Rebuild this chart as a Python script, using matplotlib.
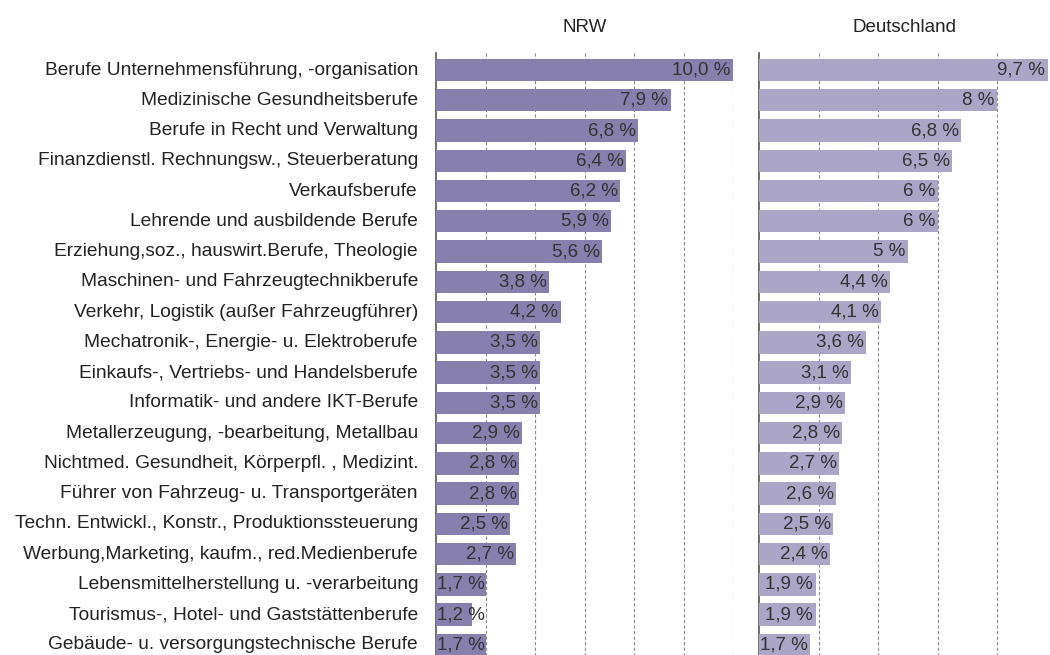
import matplotlib.pyplot as plt
import numpy as np

plt.rcParams['font.family'] = ['Liberation Sans', 'DejaVu Sans']

# categories, top to bottom
categories = [
    "Berufe Unternehmensführung, -organisation",
    "Medizinische Gesundheitsberufe",
    "Berufe in Recht und Verwaltung",
    "Finanzdienstl. Rechnungsw., Steuerberatung",
    "Verkaufsberufe",
    "Lehrende und ausbildende Berufe",
    "Erziehung,soz., hauswirt.Berufe, Theologie",
    "Maschinen- und Fahrzeugtechnikberufe",
    "Verkehr, Logistik (außer Fahrzeugführer)",
    "Mechatronik-, Energie- u. Elektroberufe",
    "Einkaufs-, Vertriebs- und Handelsberufe",
    "Informatik- und andere IKT-Berufe",
    "Metallerzeugung, -bearbeitung, Metallbau",
    "Nichtmed. Gesundheit, Körperpfl. , Medizint.",
    "Führer von Fahrzeug- u. Transportgeräten",
    "Techn. Entwickl., Konstr., Produktionssteuerung",
    "Werbung,Marketing, kaufm., red.Medienberufe",
    "Lebensmittelherstellung u. -verarbeitung",
    "Tourismus-, Hotel- und Gaststättenberufe",
    "Gebäude- u. versorgungstechnische Berufe",
]

nrw_values = [10.0, 7.9, 6.8, 6.4, 6.2, 5.9, 5.6, 3.8, 4.2, 3.5,
              3.5, 3.5, 2.9, 2.8, 2.8, 2.5, 2.7, 1.7, 1.2, 1.7]
nrw_labels = ["10,0 %", "7,9 %", "6,8 %", "6,4 %", "6,2 %", "5,9 %", "5,6 %",
              "3,8 %", "4,2 %", "3,5 %", "3,5 %", "3,5 %", "2,9 %", "2,8 %",
              "2,8 %", "2,5 %", "2,7 %", "1,7 %", "1,2 %", "1,7 %"]

de_values = [9.7, 8, 6.8, 6.5, 6, 6, 5, 4.4, 4.1, 3.6,
             3.1, 2.9, 2.8, 2.7, 2.6, 2.5, 2.4, 1.9, 1.9, 1.7]
de_labels = ["9,7 %", "8 %", "6,8 %", "6,5 %", "6 %", "6 %", "5 %", "4,4 %",
             "4,1 %", "3,6 %", "3,1 %", "2,9 %", "2,8 %", "2,7 %", "2,6 %",
             "2,5 %", "2,4 %", "1,9 %", "1,9 %", "1,7 %"]

W, H = 1050, 655
fig = plt.figure(figsize=(W / 100, H / 100), dpi=100)

ax_top = 53
ax_bot = 660


def make_axes(x0, x1):
    return fig.add_axes([x0 / W, 1 - ax_bot / H, (x1 - x0) / W, (ax_bot - ax_top) / H])


ax_nrw = make_axes(436, 733)
ax_de = make_axes(759, 1050)

y = np.arange(len(categories))


def draw_panel(ax, values, labels, color, xmax, grid, title):
    ax.barh(y, values, height=0.74, color=color, zorder=2)
    ax.set_xlim(0, xmax)
    ax.set_ylim(19.5, -0.562)
    for g in grid[1:]:
        ax.axvline(g, color='#8a8a8a', lw=0.8, ls=(0, (3, 2)), zorder=1)
    for s in ['top', 'right', 'bottom']:
        ax.spines[s].set_visible(False)
    ax.spines['left'].set_color('#555555')
    ax.spines['left'].set_linewidth(1.2)
    ax.spines['left'].set_zorder(1)
    ax.set_xticks([])
    ax.set_yticks([])
    for yi, v, lab in zip(y, values, labels):
        if v < 1.8:
            ax.text(0.05, yi, lab, ha='left', va='center', fontsize=13.5,
                    color='#333333', zorder=3)
        else:
            ax.text(v - 0.08, yi, lab, ha='right', va='center', fontsize=13.5,
                    color='#333333', zorder=3)
    ax.set_title(title, fontsize=13.5, color='#222222', pad=15)


draw_panel(ax_nrw, nrw_values, nrw_labels, '#877fad', 10, np.linspace(0, 10, 7), 'NRW')
draw_panel(ax_de, de_values, de_labels, '#aba6c7', (1050 - 759) / 29.75, np.arange(0, 10, 2), 'Deutschland')

for yi, cat in zip(y, categories):
    ax_nrw.text(-18 / 29.7, yi, cat, ha='right', va='center', fontsize=13.8,
                color='#222222')

fig.savefig('out.png', dpi=100)
